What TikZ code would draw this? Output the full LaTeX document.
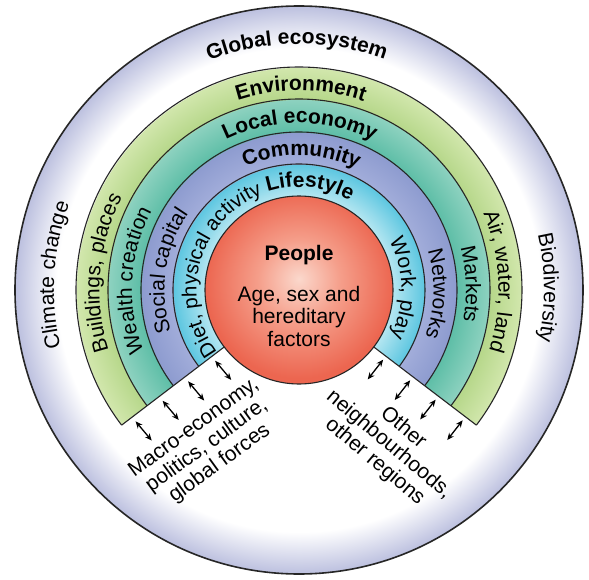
\documentclass[tikz,border=0pt]{standalone}
\usepackage{fontspec}
\setmainfont{Liberation Sans}
\usetikzlibrary{decorations.text, arrows.meta, calc}
\definecolor{linec}{HTML}{262626}
\definecolor{lav}{HTML}{BCC0DF}
\definecolor{lifein}{HTML}{B4E6F1}
\definecolor{lifeout}{HTML}{5CC6E0}
\definecolor{comin}{HTML}{A2ADDA}
\definecolor{comout}{HTML}{8D9BCF}
\definecolor{locin}{HTML}{5EBEA7}
\definecolor{locout}{HTML}{8ED2C0}
\definecolor{envin}{HTML}{B6D78A}
\definecolor{envout}{HTML}{D2E7AD}
\definecolor{pin}{HTML}{FBD8CC}
\definecolor{pmid}{HTML}{F59E8A}
\definecolor{pout}{HTML}{EC6650}
\pgfdeclareradialshading{globsh}{\pgfpoint{0bp}{0bp}}{color(0bp)=(white); color(21.3bp)=(white); color(25bp)=(lav); color(50bp)=(lav)}
\pgfdeclareradialshading{ringsh}{\pgfpoint{0bp}{0bp}}{color(0bp)=(lifein); color(8.27bp)=(lifein); color(11.09bp)=(lifeout); color(11.10bp)=(comin); color(13.91bp)=(comout); color(13.92bp)=(locin); color(16.81bp)=(locout); color(16.82bp)=(envin); color(19.63bp)=(envout); color(19.64bp)=(white); color(50bp)=(white)}
\pgfdeclareradialshading{peoplesh}{\pgfpoint{0bp}{3bp}}{color(0bp)=(pin); color(11bp)=(pmid); color(25bp)=(pout); color(50bp)=(pout)}
\newcommand\dgRing{\fontsize{21}{22}\selectfont}
\newcommand\dgRingS{\fontsize{20.5}{22}\selectfont}
\newcommand\dgRingB{\fontsize{21}{22}\selectfont\bfseries}
\begin{document}
\begin{tikzpicture}[x=1pt,y=1pt,
  bnd/.style={draw=linec, line width=1.1pt},
  dbl/.style={{Stealth[length=7pt,width=6pt]}-{Stealth[length=7pt,width=6pt]}, line width=1.3pt, draw=black},
  arclabel/.style={decorate, decoration={text along path, text align=center, text={#1}}}]
\useasboundingbox (-299,-289) rectangle (290,290);
% global ecosystem
\shade[shading=globsh] (0,0) circle[radius=284];
\draw[line width=1.6pt, draw=linec] (0,0) circle[radius=284];
% rings
\begin{scope}
\clip (217.3:94) -- (217.3:223) arc[start angle=217.3, end angle=-37.3, radius=223] -- (-37.3:94) arc[start angle=-37.3, end angle=217.3, radius=94] -- cycle;
\shade[shading=ringsh] (0,0) circle[radius=284];
\end{scope}
\foreach \r in {126,158,191,223}
  \draw[bnd] (217.3:\r) arc[start angle=217.3, end angle=-37.3, radius=\r];
\draw[bnd] (217.3:94) -- (217.3:223);
\draw[bnd] (-37.3:94) -- (-37.3:223);
% people
\shade[shading=peoplesh] (0,0) circle[radius=94];
\draw[bnd] (0,0) circle[radius=94];
% top labels
\path[arclabel={|\dgRingB|Global ecosystem}] (170.5:246) arc[start angle=170.5, end angle=10.5, radius=246];
\path[arclabel={|\dgRingB|Environment}] (169.5:199.5) arc[start angle=169.5, end angle=9.5, radius=199.5];
\path[arclabel={|\dgRingB|Local economy}] (169.7:167) arc[start angle=169.7, end angle=9.7, radius=167];
\path[arclabel={|\dgRingB|Community}] (169:134.5) arc[start angle=169, end angle=9, radius=134.5];
\path[arclabel={|\dgRingB|Lifestyle}] (144:103) arc[start angle=144, end angle=24, radius=103];
% left labels
\path[arclabel={|\dgRing|Climate change}] (256.5:245) arc[start angle=256.5, end angle=96.5, radius=245];
\path[arclabel={|\dgRing|Buildings, places}] (255:199.5) arc[start angle=255, end angle=95, radius=199.5];
\path[arclabel={|\dgRing|Wealth creation}] (256.7:167) arc[start angle=256.7, end angle=96.7, radius=167];
\path[arclabel={|\dgRing|Social capital}] (251.7:134.5) arc[start angle=251.7, end angle=91.7, radius=134.5];
\path[arclabel={|\dgRingS|Diet, physical activity}] (244:102.5) arc[start angle=244, end angle=84, radius=102.5];
% right labels
\path[arclabel={|\dgRing|Biodiversity}] (80.5:245) arc[start angle=80.5, end angle=-79.5, radius=245];
\path[arclabel={|\dgRing|Air, water, land}] (82.5:199.5) arc[start angle=82.5, end angle=-77.5, radius=199.5];
\path[arclabel={|\dgRing|Markets}] (82:167) arc[start angle=82, end angle=-78, radius=167];
\path[arclabel={|\dgRing|Networks}] (78.5:134.5) arc[start angle=78.5, end angle=-81.5, radius=134.5];
\path[arclabel={|\dgRing|Work, play}] (61:102.5) arc[start angle=61, end angle=-59, radius=102.5];
% people text
\node[anchor=base, font=\dgRingB] (people) at (0,30) {People};
\node[anchor=base, font=\dgRing] (age) at (0,-11) {Age, sex and};
\node[anchor=base, font=\dgRing] (hered) at (0,-33.5) {hereditary};
\node[anchor=base, font=\dgRing] (fact) at (0,-56) {factors};
% wedge texts
\node[rotate=36, align=center, font=\dgRing] (macro) at (-92,-156) {Macro-economy,\\politics, culture,\\global forces};
\node[rotate=-40, align=center, font=\dgRing] (other) at (90,-155) {Other\\neighbourhoods,\\other regions};
% arrows
\foreach \r [count=\i] in {109,143,175,209} {
  \coordinate (la\i) at ($(217.3:\r)+(307.3:18)+(130:12.5)$);
  \coordinate (lb\i) at ($(217.3:\r)+(307.3:18)+(310:12.5)$);
  \draw[dbl] (la\i) -- (lb\i);
  \coordinate (ra\i) at ($(-37.3:\r)+(232.7:17)+(52:12.5)$);
  \coordinate (rb\i) at ($(-37.3:\r)+(232.7:17)+(232:12.5)$);
  \draw[dbl] (ra\i) -- (rb\i);
}
\end{tikzpicture}
\end{document}
